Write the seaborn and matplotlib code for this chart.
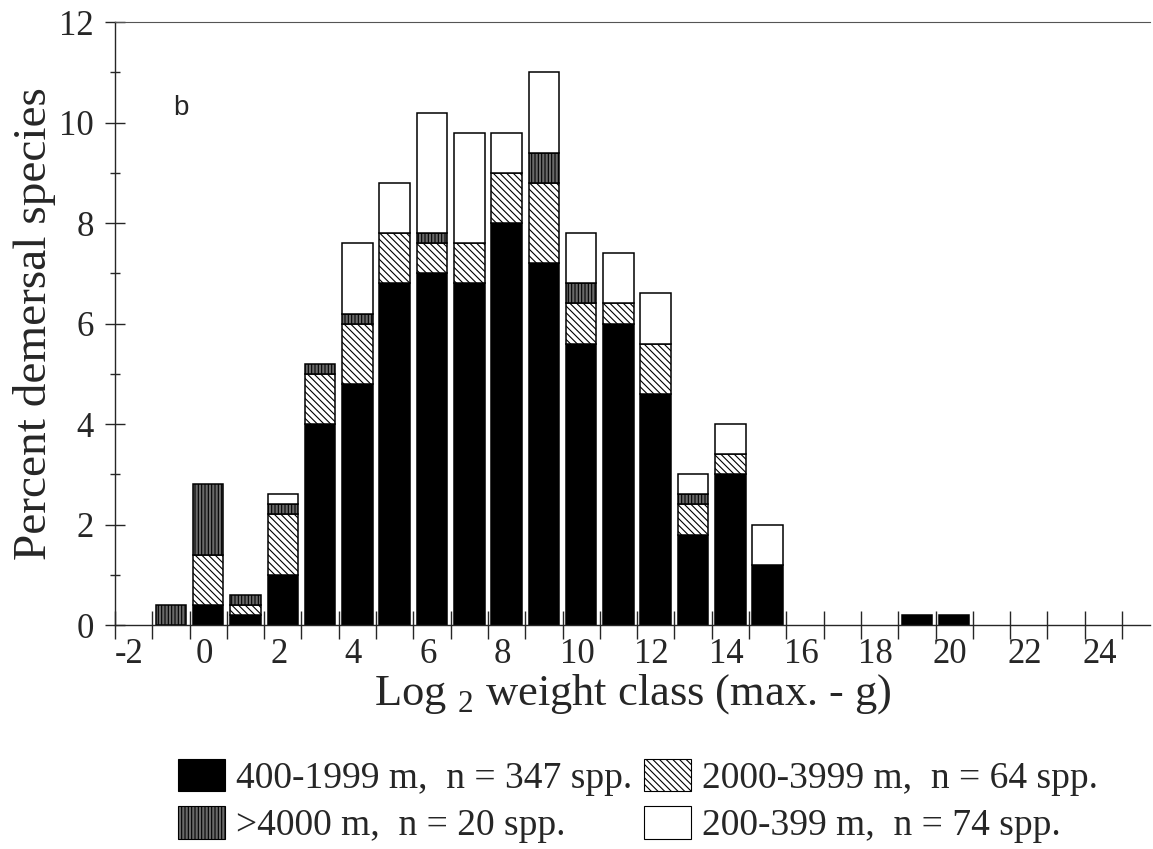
import numpy as np
import pandas as pd
import matplotlib
matplotlib.use("Agg")
import matplotlib.pyplot as plt
import matplotlib.transforms as mtransforms
from matplotlib.patches import Patch
from matplotlib.ticker import FixedLocator, NullFormatter
import seaborn as sns

# Percent of demersal species per log2 maximum-weight class, by depth zone
weight_class = [-1, 0, 1, 2, 3, 4, 5, 6, 7, 8, 9, 10, 11, 12, 13, 14, 15, 19, 20]
pct_400_1999 = [0.0, 0.4, 0.2, 1.0, 4.0, 4.8, 6.8, 7.0, 6.8, 8.0, 7.2, 5.6, 6.0, 4.6, 1.8, 3.0, 1.2, 0.2, 0.2]
pct_2000_3999 = [0.0, 1.0, 0.2, 1.2, 1.0, 1.2, 1.0, 0.6, 0.8, 1.0, 1.6, 0.8, 0.4, 1.0, 0.6, 0.4, 0.0, 0.0, 0.0]
pct_4000_plus = [0.4, 1.4, 0.2, 0.2, 0.2, 0.2, 0.0, 0.2, 0.0, 0.0, 0.6, 0.4, 0.0, 0.0, 0.2, 0.0, 0.0, 0.0, 0.0]
pct_200_399 = [0.0, 0.0, 0.0, 0.2, 0.0, 1.4, 1.0, 2.4, 2.2, 0.8, 1.6, 1.0, 1.0, 1.0, 0.4, 0.6, 0.8, 0.0, 0.0]

zone_labels = ["400-1999 m,  n = 347 spp.", "2000-3999 m,  n = 64 spp.",
               ">4000 m,  n = 20 spp.", "200-399 m,  n = 74 spp."]
zone_values = [pct_400_1999, pct_2000_3999, pct_4000_plus, pct_200_399]

x_tick_labels = list(range(-2, 25, 2))
y_tick_labels = list(range(0, 13, 2))

# Long table for a weighted, stacked histogram
frames = [pd.DataFrame({"cls": weight_class, "pct": vals, "zone": lab})
          for lab, vals in zip(zone_labels, zone_values)]
df = pd.concat(frames, ignore_index=True)

sns.set_style("ticks")
plt.rcParams["font.family"] = ["Liberation Serif", "DejaVu Serif"]
plt.rcParams["mathtext.fontset"] = "custom"
plt.rcParams["mathtext.rm"] = "Liberation Serif"
plt.rcParams["hatch.linewidth"] = 0.8

# Styles per depth zone (draw colour used as a key, final look applied afterwards)
key_colors = {zone_labels[0]: "#000000", zone_labels[1]: "#ff0000",
              zone_labels[2]: "#00ff00", zone_labels[3]: "#0000ff"}
looks = {
    "#000000": dict(fc="black", hatch=None),
    "#ff0000": dict(fc="white", hatch="\\\\\\\\\\"),
    "#00ff00": dict(fc="#6a6a6a", hatch="|||||"),
    "#0000ff": dict(fc="white", hatch=None),
}

fig = plt.figure(figsize=(11.53, 8.49), dpi=100)
ax = fig.add_axes([0.0997, 0.2638, 0.8977, 0.7102])

# first hue level is stacked on top
sns.histplot(data=df, x="cls", weights="pct", hue="zone",
             hue_order=[zone_labels[3], zone_labels[2], zone_labels[1], zone_labels[0]],
             palette=key_colors, multiple="stack", discrete=True, shrink=0.82,
             alpha=1, edgecolor="black", linewidth=1.1, legend=False, ax=ax)

for p in ax.patches:
    key = matplotlib.colors.to_hex(p.get_facecolor())
    if key in looks:
        p.set_facecolor(looks[key]["fc"])
        p.set_edgecolor("black")
        if looks[key]["hatch"]:
            p.set_hatch(looks[key]["hatch"])
    if p.get_height() == 0:
        p.set_visible(False)

ax.set_xlim(-2.5, 25.25)
ax.set_ylim(0, 12)

ax.set_xticks(x_tick_labels)
ax.set_xticklabels([str(v) for v in x_tick_labels])
ax.xaxis.set_minor_locator(FixedLocator(np.arange(-2.5, 25.0, 1.0)))
ax.xaxis.set_minor_formatter(NullFormatter())
ax.tick_params(axis="x", which="major", length=0, pad=9, labelsize=25)
ax.tick_params(axis="x", which="minor", length=20, width=1.0, direction="inout")
shift = mtransforms.ScaledTranslation(-0.04, 0, fig.dpi_scale_trans)
for lbl in ax.get_xticklabels():
    lbl.set_transform(lbl.get_transform() + shift)

ax.set_yticks(y_tick_labels)
ax.set_yticklabels([str(v) for v in y_tick_labels])
ax.yaxis.set_minor_locator(FixedLocator(np.arange(1, 12, 2)))
ax.tick_params(axis="y", which="major", length=14.4, width=1.0, direction="inout",
               pad=8, labelsize=25)
ax.tick_params(axis="y", which="minor", length=6.5, width=1.0, direction="inout")

ax.spines["right"].set_visible(False)
ax.spines["top"].set_linewidth(0.8)
ax.spines["top"].set_color("#555555")
ax.spines["left"].set_linewidth(1.0)
ax.spines["bottom"].set_linewidth(1.0)

ax.set_xlabel(r"Log $_{2}$ weight class (max. - g)", fontsize=32, labelpad=1)
ax.set_ylabel("Percent demersal species", fontsize=34, labelpad=2)

ax.text(0.0637, 0.857, "b", transform=ax.transAxes, fontsize=20,
        family=["Liberation Sans", "DejaVu Sans"], ha="center", va="center")

handles = []
for lab in zone_labels:
    look = looks[key_colors[lab]]
    handles.append(Patch(facecolor=look["fc"], edgecolor="black",
                         hatch=look["hatch"], linewidth=0.8, label=lab))

fig.legend(handles=[handles[0], handles[2], handles[1], handles[3]],
           labels=[zone_labels[0], zone_labels[2], zone_labels[1], zone_labels[3]],
           ncol=2, loc="lower left", bbox_to_anchor=(0.1415, -0.011),
           frameon=False, fontsize=27, handlelength=1.25, handleheight=0.95,
           handletextpad=0.3, columnspacing=0.3, labelspacing=0.27,
           borderaxespad=0.0)

fig.savefig("out.png", dpi=100)
